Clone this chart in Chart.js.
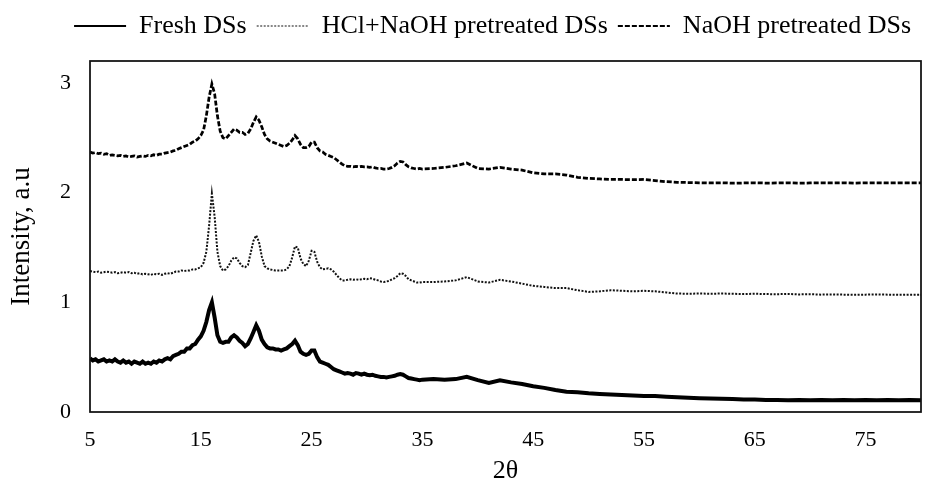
<!DOCTYPE html>
<html>
<head>
<meta charset="utf-8">
<script src="https://cdn.jsdelivr.net/npm/chart.js@4.4.1/dist/chart.umd.min.js"></script>
<style>
  html, body { margin: 0; padding: 0; background: #fff; }
  #wrap { width: 925px; height: 482px; position: relative; }
</style>
</head>
<body>
<div id="wrap"><canvas id="xrd_chart"></canvas></div>
<script>
// 2θ grid (finer where the peaks are)
const twoTheta = [
    5, 5.25, 5.5, 5.75,   6, 6.25, 6.5, 6.75,   7, 7.25, 7.5, 7.75,
    8, 8.25, 8.5, 8.75,   9, 9.25, 9.5, 9.75,   10, 10.25, 10.5, 10.75,
    11, 11.25, 11.5, 11.75,   12, 12.25, 12.5, 12.75,   13, 13.25, 13.5, 13.75,
    14, 14.25, 14.5, 14.75,   15, 15.25, 15.5, 15.75,   16, 16.25, 16.5, 16.75,
    17, 17.25, 17.5, 17.75,   18, 18.25, 18.5, 18.75,   19, 19.25, 19.5, 19.75,
    20, 20.25, 20.5, 20.75,   21, 21.25, 21.5, 21.75,   22, 22.25, 22.5, 22.75,
    23, 23.25, 23.5, 23.75,   24, 24.25, 24.5, 24.75,   25, 25.25, 25.5, 25.75,
    26, 26.25, 26.5, 26.75,   27, 27.25, 27.5, 27.75,   28, 28.25, 28.5, 28.75,
    29, 29.25, 29.5, 29.75,   30, 30.25, 30.5, 30.75,   31, 31.25, 31.5, 31.75,
    32, 32.25, 32.5, 32.75,   33, 33.25, 33.5, 33.75,   34, 34.25, 34.5, 34.75,
    35,
    36, 37, 38, 39, 40, 41, 42, 43, 44, 45,
    46, 47, 48, 49, 50, 51, 52, 53, 54, 55,
    56, 57, 58, 59, 60, 61, 62, 63, 64, 65,
    66, 67, 68, 69, 70, 71, 72, 73, 74, 75,
    76, 77, 78, 79, 80
];

const freshDSs = [
    .49, .47, .48, .46,   .47, .48, .46, .47,   .46, .48, .46, .45,
    .47, .45, .46, .44,   .46, .45, .44, .46,   .44, .45, .44, .46,
    .45, .47, .46, .48,   .49, .48, .51, .52,   .53, .55, .55, .58,
    .58, .61, .62, .66,   .69, .74, .82, .93,   1.0, .86, .70, .64,
    .63, .64, .64, .68,   .70, .68, .65, .63,   .60, .62, .67, .73,
    .79, .74, .66, .62,   .59, .58, .58, .57,   .57, .56, .57, .58,
    .60, .62, .65, .61,   .55, .53, .52, .53,   .56, .56, .50, .46,
    .45, .44, .43, .41,   .39, .38, .37, .36,   .35, .355, .35, .34,
    .355, .35, .34, .35,   .34, .335, .34, .33,   .325, .32, .32, .315,
    .32, .325, .33, .34,   .345, .34, .325, .31,   .305, .30, .295, .29,
    .295,
    .30, .295, .30, .32, .29, .265, .29, .27, .255, .235,
    .22, .20, .185, .18, .17, .165, .16, .155, .15, .145,
    .145, .14, .135, .13, .125, .122, .12, .118, .115, .113,
    .11, .11, .108, .11, .107, .11, .108, .11, .107, .11,
    .108, .11, .107, .11, .108
];

const hclNaohDSs = [
    1.285, 1.28, 1.275, 1.28,   1.27, 1.275, 1.28, 1.276,   1.27, 1.275, 1.265, 1.27,
    1.275, 1.27, 1.276, 1.265,   1.27, 1.26, 1.265, 1.255,   1.26, 1.255, 1.25, 1.26,
    1.255, 1.26, 1.25, 1.26,   1.266, 1.26, 1.27, 1.28,   1.28, 1.29, 1.285, 1.29,
    1.29, 1.30, 1.30, 1.31,   1.32, 1.36, 1.46, 1.70,   1.99, 1.78, 1.46, 1.33,
    1.29, 1.30, 1.33, 1.38,   1.41, 1.40, 1.36, 1.33,   1.32, 1.34, 1.45, 1.56,
    1.61, 1.55, 1.42, 1.33,   1.31, 1.30, 1.295, 1.29,   1.29, 1.29, 1.29, 1.30,
    1.33, 1.41, 1.51, 1.50,   1.40, 1.35, 1.33, 1.38,   1.47, 1.46, 1.37, 1.32,
    1.30, 1.305, 1.31, 1.30,   1.28, 1.25, 1.22, 1.20,   1.20, 1.205, 1.21, 1.205,
    1.21, 1.205, 1.21, 1.215,   1.21, 1.22, 1.215, 1.205,   1.20, 1.19, 1.185, 1.19,
    1.195, 1.21, 1.22, 1.24,   1.265, 1.26, 1.24, 1.21,   1.20, 1.19, 1.18, 1.18,
    1.185,
    1.185, 1.19, 1.20, 1.23, 1.19, 1.18, 1.205, 1.19, 1.17, 1.15,
    1.14, 1.13, 1.13, 1.11, 1.095, 1.10, 1.11, 1.105, 1.10, 1.105,
    1.10, 1.09, 1.08, 1.078, 1.08, 1.078, 1.08, 1.078, 1.075, 1.078,
    1.075, 1.074, 1.076, 1.072, 1.074, 1.07, 1.072, 1.07, 1.068, 1.07,
    1.072, 1.07, 1.068, 1.07, 1.07
];

const naohDSs = [
    2.37, 2.36, 2.365, 2.355,   2.36, 2.35, 2.355, 2.34,   2.345, 2.34, 2.335, 2.34,
    2.33, 2.335, 2.325, 2.33,   2.335, 2.325, 2.33, 2.335,   2.33, 2.34, 2.335, 2.345,
    2.34, 2.35, 2.35, 2.36,   2.365, 2.37, 2.38, 2.385,   2.40, 2.41, 2.42, 2.43,
    2.44, 2.46, 2.47, 2.49,   2.52, 2.57, 2.70, 2.87,   2.99, 2.90, 2.70, 2.56,
    2.50, 2.49, 2.52, 2.55,   2.58, 2.57, 2.55, 2.55,   2.53, 2.54, 2.58, 2.64,
    2.69, 2.66, 2.60, 2.53,   2.49, 2.47, 2.46, 2.45,   2.44, 2.43, 2.42, 2.43,
    2.45, 2.48, 2.52, 2.49,   2.44, 2.41, 2.41, 2.42,   2.46, 2.46, 2.41, 2.38,
    2.37, 2.35, 2.34, 2.33,   2.32, 2.30, 2.28, 2.26,   2.245, 2.24, 2.24, 2.235,
    2.24, 2.235, 2.24, 2.235,   2.235, 2.23, 2.235, 2.225,   2.22, 2.22, 2.215, 2.215,
    2.22, 2.23, 2.245, 2.27,   2.285, 2.28, 2.255, 2.235,   2.225, 2.22, 2.215, 2.22,
    2.215,
    2.22, 2.23, 2.245, 2.27, 2.22, 2.215, 2.23, 2.215, 2.205, 2.18,
    2.17, 2.17, 2.16, 2.14, 2.13, 2.125, 2.12, 2.12, 2.118, 2.12,
    2.11, 2.10, 2.094, 2.092, 2.09, 2.088, 2.09, 2.086, 2.088, 2.09,
    2.087, 2.088, 2.09, 2.086, 2.088, 2.09, 2.088, 2.09, 2.087, 2.089,
    2.09, 2.088, 2.09, 2.09, 2.09
];

const seriesNames = ['Fresh DSs', 'HCl+NaOH pretreated DSs', 'NaOH pretreated DSs'];
const xTicks = [5, 15, 25, 35, 45, 55, 65, 75];
const yTicks = [0, 1, 2, 3];

const serif = "'Liberation Serif', 'Times New Roman', serif";

const toPoints = ys => twoTheta.map((t, i) => ({x: t, y: ys[i]}));

// Excel-like frame round the plot area
const plotFrame = {
    id: 'plotFrame',
    afterDraw(chart) {
        const {ctx, chartArea: a} = chart;
        ctx.save();
        ctx.strokeStyle = '#111';
        ctx.lineWidth = 1.75;
        ctx.strokeRect(a.left, a.top, a.right - a.left, a.bottom - a.top);
        ctx.restore();
    }
};

// legend takes the whole band above the plot
const legendBand = {
    id: 'legendBand',
    beforeInit(chart) {
        const fit = chart.legend.fit;
        chart.legend.fit = function () {
            fit.bind(chart.legend)();
            this.height = 58;
        };
    }
};

// legend samples: thinner than the noisy traces, keep the dash pattern
const legendWidths = [2, 1.2, 2];

const ctx = document.getElementById('xrd_chart');

new Chart(ctx, {
    type: 'line',
    data: {
        datasets: [{
            label: seriesNames[0],
            data: toPoints(freshDSs),
            borderColor: '#000',
            borderWidth: 4,
        }, {
            label: seriesNames[1],
            data: toPoints(hclNaohDSs),
            borderColor: '#111',
            borderWidth: 2,
            borderDash: [2, 1.5],
        }, {
            label: seriesNames[2],
            data: toPoints(naohDSs),
            borderColor: '#000',
            borderWidth: 2.75,
            borderDash: [5, 2],
        }]
    },
    options: {
        responsive: true,
        maintainAspectRatio: false,
        animation: false,
        layout: {
            padding: { top: 3, right: 4, bottom: 0, left: 0 }
        },
        elements: {
            point: { radius: 0 },
            line: { tension: 0, fill: false }
        },
        plugins: {
            tooltip: { enabled: false },
            legend: {
                display: true,
                position: 'top',
                align: 'end',
                labels: {
                    color: '#000',
                    font: { family: serif, size: 26 },
                    padding: 10,
                    usePointStyle: true,
                    pointStyle: 'line',
                    pointStyleWidth: 52,
                    generateLabels: function(chart) {
                        return Chart.defaults.plugins.legend.labels.generateLabels(chart)
                            .map(l => Object.assign(l, {
                                lineWidth: legendWidths[l.datasetIndex],
                                lineDash: chart.data.datasets[l.datasetIndex].borderDash || []
                            }));
                    }
                }
            }
        },
        scales: {
            x: {
                type: 'linear',
                min: 5,
                max: 80,
                afterBuildTicks: axis => { axis.ticks = xTicks.map(v => ({value: v})); },
                afterFit: axis => { axis.height = 70; },
                grid: { display: false, drawTicks: false },
                border: { display: false },
                ticks: {
                    color: '#000',
                    padding: 15,
                    font: { family: serif, size: 22 }
                },
                title: {
                    display: true,
                    text: '2θ',
                    color: '#000',
                    font: { family: serif, size: 26 },
                    padding: { top: 0, bottom: -5 }
                }
            },
            y: {
                min: 0,
                max: 3.2,
                afterBuildTicks: axis => { axis.ticks = yTicks.map(v => ({value: v})); },
                afterFit: axis => { axis.width = 90; },
                grid: { display: false, drawTicks: false },
                border: { display: false },
                ticks: {
                    color: '#000',
                    padding: 19,
                    font: { family: serif, size: 22 }
                },
                title: {
                    display: true,
                    text: 'Intensity, a.u',
                    color: '#000',
                    font: { family: serif, size: 27 },
                    padding: { top: 6, bottom: 0 }
                }
            }
        }
    },
    plugins: [plotFrame, legendBand]
});
</script>
</body>
</html>
